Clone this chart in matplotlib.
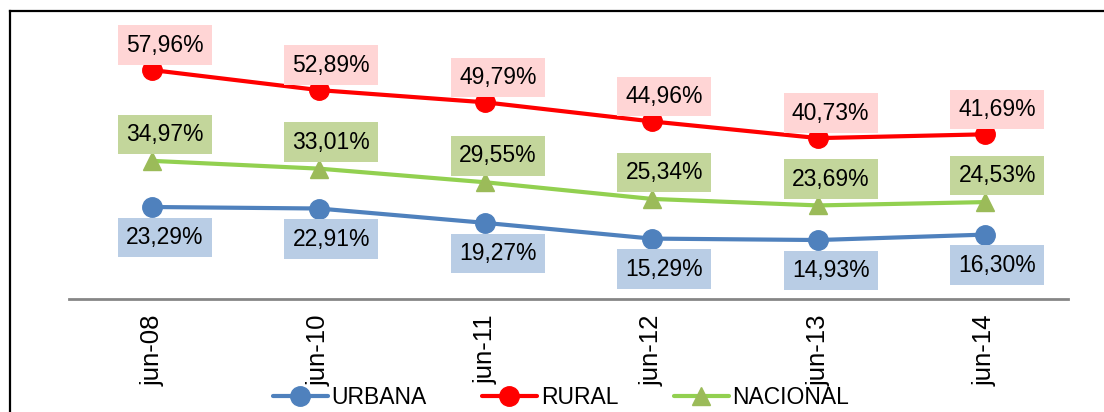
import matplotlib
matplotlib.use("Agg")
import matplotlib.pyplot as plt
from matplotlib.lines import Line2D
import numpy as np

plt.rcParams['font.family'] = ['Liberation Sans', 'DejaVu Sans']

categories = ["jun-08", "jun-10", "jun-11", "jun-12", "jun-13", "jun-14"]
urbana = [23.29, 22.91, 19.27, 15.29, 14.93, 16.30]
rural = [57.96, 52.89, 49.79, 44.96, 40.73, 41.69]
nacional = [34.97, 33.01, 29.55, 25.34, 23.69, 24.53]

# (name, values, line colour, marker, marker colour, label box colour, label offset y in pt)
series = [
    ("URBANA", urbana, "#4F81BD", "o", "#4F81BD", "#B9CDE5", -22),
    ("RURAL", rural, "#FF0000", "o", "#FF0000", "#FFD5D5", 18),
    ("NACIONAL", nacional, "#92D050", "^", "#9BBB59", "#C3D69B", 19),
]

fig = plt.figure(figsize=(11.04, 4.12), dpi=100)
W, H = 1104, 412
ax = fig.add_axes([69 / W, 113 / H, 999 / W, 276.5 / H])

x = np.arange(len(categories))
handles = []
for name, vals, lc, mk, mc, bc, dy in series:
    ms = 14 if mk == "o" else 13
    h, = ax.plot(x, vals, color=lc, lw=3, marker=mk, ms=ms,
                 markerfacecolor=mc, markeredgecolor=mc, label=name,
                 solid_capstyle="round", clip_on=False)
    handles.append(h)
    for xi, v in zip(x, vals):
        txt = f"{v:.2f}%".replace(".", ",")
        ax.annotate(txt, (xi, v), xytext=(9, dy), textcoords="offset points",
                    ha="center", va="center", fontsize=16.5, color="black",
                    bbox=dict(boxstyle="square,pad=0.36", fc=bc, ec="none"),
                    zorder=5)

ax.set_xlim(-0.5, len(categories) - 0.5)
ax.set_ylim(0, 70)
ax.set_xticks(x)
ax.set_xticklabels(categories, rotation=90, fontsize=18.5)
ax.tick_params(axis="x", length=0, pad=11)
ax.set_yticks([])
for s in ["top", "right", "left"]:
    ax.spines[s].set_visible(False)
ax.spines["bottom"].set_color("#868686")
ax.spines["bottom"].set_linewidth(2)
ax.patch.set_alpha(0)

fig.legend(handles=handles, loc="center", bbox_to_anchor=(561 / W, 1 - 398 / H),
           ncol=3, frameon=False, fontsize=16.5, handlelength=2.4,
           handletextpad=0.18, columnspacing=2.4, borderaxespad=0)

# outer chart frame (only left and top edges fall inside the picture)
fig.add_artist(Line2D([9.5 / W, 9.5 / W], [0, 1 - 11 / H], color="black", lw=1.6,
                      transform=fig.transFigure))
fig.add_artist(Line2D([9.5 / W, 1], [1 - 11 / H, 1 - 11 / H], color="black", lw=1.6,
                      transform=fig.transFigure))

fig.savefig("out.png", dpi=100)
